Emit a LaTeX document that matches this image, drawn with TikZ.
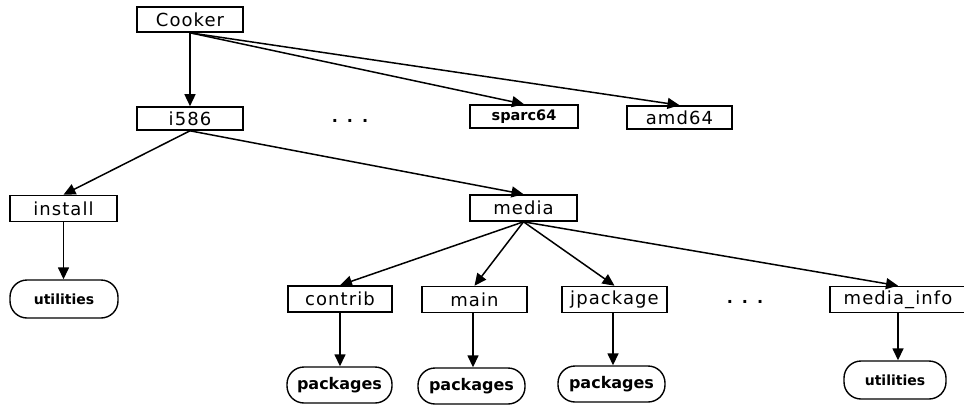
\documentclass[tikz,border=0pt]{standalone}
\usepackage{fontspec}
\setmainfont{DejaVu Sans}
\newfontfamily\dirfont[LetterSpace=6]{DejaVu Sans}
\usetikzlibrary{arrows.meta}
\tikzset{
    dir/.style={draw, line width=1.6pt, minimum width=106pt, minimum height=24pt, inner sep=0pt, font=\dirfont\fontsize{18}{18}\selectfont},
    leaf/.style={draw, line width=1.4pt, rounded corners=17pt, minimum width=105pt, minimum height=36pt, inner sep=0pt, font=\bfseries\fontsize{16}{16}\selectfont},
    link/.style={line width=1.5pt, -{Triangle[length=12pt, width=11pt]}},
}
\begin{document}
\begin{tikzpicture}[x=1pt, y=-1pt]
\useasboundingbox (0,0) rectangle (964,407);
% top level
\node[dir, minimum height=25pt] (cooker) at (190,19.5) {Cooker};
\node[dir, minimum height=23pt] (i586) at (190,118.5) {i586};
\node[dir, minimum width=108pt, minimum height=23pt, font=\bfseries\fontsize{14.5}{14.5}\selectfont] (sparc64) at (524,116.5) {sparc64};
\node[dir, minimum width=105pt, minimum height=23pt] (amd64) at (679.5,117.5) {amd64};
\node[font=\bfseries\fontsize{16}{16}\selectfont] (dotsA) at (350,121) {.\hspace{9pt}.\hspace{9pt}.};

% second level
\node[dir, minimum width=107pt, minimum height=26pt] (install) at (63.5,208.5) {install};
\node[dir, minimum width=107pt, minimum height=26pt] (media) at (523.5,208) {media};
\node[leaf, minimum width=108pt, minimum height=38pt, font=\bfseries\fontsize{14}{14}\selectfont] (util1) at (64,299) {utilities};

% media subtree
\node[dir, minimum width=104pt, minimum height=26pt] (contrib) at (340,299) {contrib};
\node[dir, minimum width=105pt, minimum height=26pt] (main) at (474.5,299.5) {main};
\node[dir, minimum width=105pt, minimum height=26pt] (jpackage) at (614.5,299.5) {jpackage};
\node[dir, minimum width=136pt, minimum height=26pt] (mediainfo) at (898,299.5) {media\_info};
\node[font=\bfseries\fontsize{16}{16}\selectfont] (dotsB) at (745,302) {.\hspace{9pt}.\hspace{9pt}.};

\node[leaf] (pkg1) at (339.5,385) {packages};
\node[leaf, minimum width=107pt] (pkg2) at (471.5,386) {packages};
\node[leaf, minimum width=107pt] (pkg3) at (611.5,384) {packages};
\node[leaf, minimum width=102pt, minimum height=38pt, font=\bfseries\fontsize{14}{14}\selectfont] (util2) at (895,380) {utilities};

% arrows
\draw[link] (cooker.south) -- (i586.north);
\draw[link] (cooker.south) -- (sparc64.north);
\draw[link] (cooker.south) -- (amd64.north);
\draw[link] (i586.south) -- (install.north);
\draw[link] (i586.south) -- (media.north);
\draw[link] (install.south) -- (install.south |- util1.north);
\draw[link] (media.south) -- (contrib.north);
\draw[link] (media.south) -- (main.north);
\draw[link] (media.south) -- (jpackage.north);
\draw[link] (media.south) -- (mediainfo.north);
\draw[link] (contrib.south) -- (contrib.south |- pkg1.north);
\draw[link] ([xshift=-1.5pt]main.south) -- ([xshift=-1.5pt]main.south |- pkg2.north);
\draw[link] ([xshift=-1.5pt]jpackage.south) -- ([xshift=-1.5pt]jpackage.south |- pkg3.north);
\draw[link] (mediainfo.south) -- (mediainfo.south |- util2.north);
\end{tikzpicture}
\end{document}
